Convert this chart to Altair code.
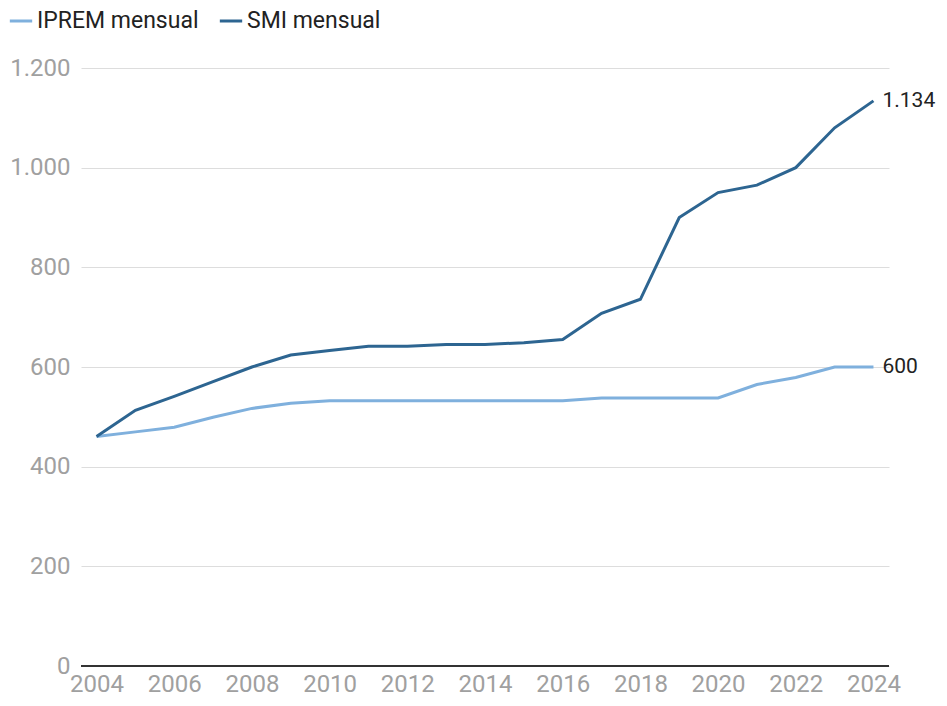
import altair as alt
import pandas as pd

years = list(range(2004, 2025))
smi = [460.5, 513.0, 540.9, 570.6, 600.0, 624.0, 633.3, 641.4, 641.4, 645.3, 645.3,
       648.6, 655.2, 707.6, 735.9, 900.0, 950.0, 965.0, 1000.0, 1080.0, 1134.0]
iprem = [460.5, 469.8, 479.1, 499.2, 516.9, 527.2, 532.5, 532.5, 532.5, 532.5, 532.5,
         532.5, 532.5, 537.8, 537.8, 537.8, 537.8, 564.9, 579.0, 600.0, 600.0]
series_names = ["IPREM mensual", "SMI mensual"]
series_colors = ["#7fb0dd", "#2d6591"]
end_labels = ["600", "1.134"]
y_ticks = [0, 200, 400, 600, 800, 1000, 1200]
x_ticks = list(range(2004, 2025, 2))

rows = []
for y, v in zip(years, iprem):
    rows.append({"year": y, "value": v, "serie": series_names[0]})
for y, v in zip(years, smi):
    rows.append({"year": y, "value": v, "serie": series_names[1]})
df = pd.DataFrame(rows)

ends = pd.DataFrame({
    "year": [years[-1], years[-1]],
    "value": [iprem[-1], smi[-1]],
    "label": end_labels,
})

FONT = "Roboto, Liberation Sans, sans-serif"

label_expr = "datum.value == 1000 ? '1.000' : datum.value == 1200 ? '1.200' : datum.label"

xscale = alt.Scale(domain=[2003.6, 2024.4], nice=False, zero=False)
yscale = alt.Scale(domain=[0, 1200], nice=False)

x = alt.X("year:Q", scale=xscale,
          axis=alt.Axis(values=x_ticks, format="d", title=None, grid=False, domain=False,
                        ticks=False, labelFontSize=24, labelColor="#a0a0a0", labelFont=FONT,
                        labelPadding=6, labelFlush=False))
y = alt.Y("value:Q", scale=yscale,
          axis=alt.Axis(values=y_ticks, title=None, grid=True, gridColor="#dddddd",
                        gridWidth=1, domain=False, ticks=False, labelFontSize=24,
                        labelColor="#a0a0a0", labelFont=FONT, labelPadding=11,
                        labelExpr=label_expr))

lines = alt.Chart(df).mark_line(strokeWidth=3).encode(
    x=x, y=y,
    color=alt.Color("serie:N", scale=alt.Scale(domain=series_names, range=series_colors),
                    legend=alt.Legend(title=None, orient="none", legendX=-73, legendY=-60,
                                      direction="horizontal", symbolType="stroke",
                                      symbolSize=500, symbolStrokeWidth=3, labelLimit=0,
                                      labelFontSize=23, labelColor="#222222", labelFont=FONT,
                                      columnPadding=14, labelOffset=3)),
    detail="serie:N",
)

baseline = alt.Chart(pd.DataFrame({"value": [0]})).mark_rule(color="#333333", strokeWidth=2).encode(
    y=alt.Y("value:Q", scale=yscale))

labels = alt.Chart(ends).mark_text(align="left", baseline="middle", dx=9, fontSize=21,
                                   color="#222222", font=FONT).encode(
    x=alt.X("year:Q", scale=xscale),
    y=alt.Y("value:Q", scale=yscale),
    text="label:N",
)

chart = alt.layer(baseline, lines, labels).properties(
    width=808, height=598,
    background="white",
    autosize=alt.AutoSizeParams(type="none"),
    padding={"left": 73, "top": 60, "right": 49, "bottom": 32},
).configure_view(stroke=None)

chart.save("out.html", embed_options={"renderer": "svg", "actions": False})
